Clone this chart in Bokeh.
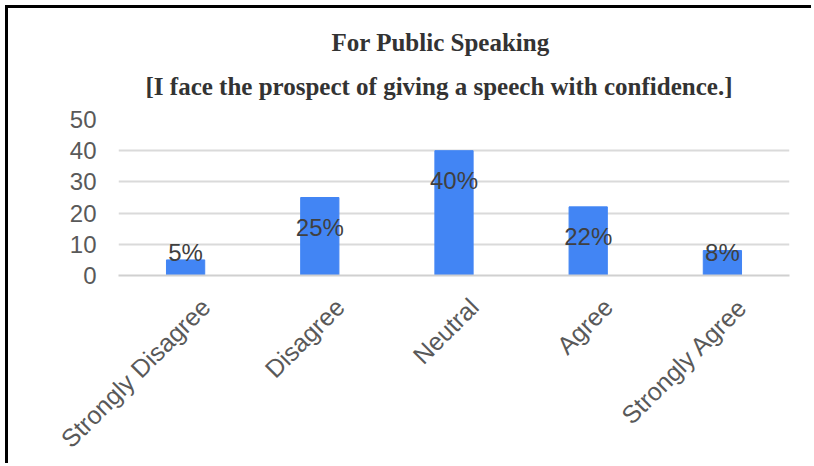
from math import pi
from bokeh.plotting import figure
from bokeh.models import ColumnDataSource, Title, Range1d, FixedTicker
from bokeh.embed import file_html
from bokeh.resources import INLINE
from bokeh.core.properties import value

categories = ["Strongly Disagree", "Disagree", "Neutral", "Agree", "Strongly Agree"]
counts = [5, 25, 40, 22, 8]
pct_labels = ["5%", "25%", "40%", "22%", "8%"]
y_ticks = [0, 10, 20, 30, 40, 50]
title_line1 = "For Public Speaking"
title_line2 = "[I face the prospect of giving a speech with confidence.]"

n = len(categories)
centers = [i + 0.5 for i in range(n)]          # category slot centres
LABEL_SHIFT = 0.15                              # rotated labels sit slightly right of bars
tick_pos = [c + LABEL_SHIFT for c in centers]
label_y = [max(v - 9.6, 7.5) for v in counts]
src = ColumnDataSource(dict(x=centers, val=counts, lab=pct_labels, ly=label_y))

p = figure(width=806, height=458, output_backend="svg", toolbar_location=None,
           x_range=Range1d(0, n), y_range=Range1d(0, 50),
           min_border_left=110, min_border_right=25, min_border_top=111, min_border_bottom=191)
p.styles = {"border-left": "3px solid #000", "border-top": "3px solid #000",
            "margin-left": "5px", "margin-top": "5px"}

t2 = Title(text=title_line2, align="left", offset=27, text_font="Liberation Serif",
           text_font_size="25px", text_font_style="bold", text_color="#333333", standoff=39)
t1 = Title(text=title_line1, align="left", offset=213, text_font="Liberation Serif",
           text_font_size="25px", text_font_style="bold", text_color="#333333", standoff=-9)
p.add_layout(t2, "above")
p.add_layout(t1, "above")

p.vbar(x="x", top="val", width=0.285, source=src, color="#4285F4")
p.text(x="x", y="ly", text="lab", source=src, text_align="center", text_baseline="middle",
       text_font=value("Liberation Sans"), text_font_size="24px", text_color="#404040")

p.xaxis.ticker = FixedTicker(ticks=tick_pos)
p.xaxis.major_label_overrides = {t: c for t, c in zip(tick_pos, categories)}
p.xaxis.axis_line_color = "#d0d0d0"
p.xaxis.axis_line_width = 2
p.xaxis.major_tick_line_color = None
p.xaxis.minor_tick_line_color = None
p.xaxis.major_label_orientation = pi / 4
p.xaxis.major_label_text_font = "Liberation Sans"
p.xaxis.major_label_text_font_size = "25px"
p.xaxis.major_label_text_color = "#595959"
p.xaxis.major_label_standoff = 21

p.outline_line_color = None
p.xgrid.grid_line_color = None
p.ygrid.grid_line_color = "#dadada"
p.ygrid.grid_line_width = 2
p.yaxis.ticker = FixedTicker(ticks=y_ticks)
p.yaxis.axis_line_color = None
p.yaxis.major_tick_line_color = None
p.yaxis.minor_tick_line_color = None
p.yaxis.major_label_text_font = "Liberation Sans"
p.yaxis.major_label_text_font_size = "24px"
p.yaxis.major_label_text_color = "#595959"
p.yaxis.major_label_standoff = 16

open("out.html", "w").write(file_html(p, INLINE))
